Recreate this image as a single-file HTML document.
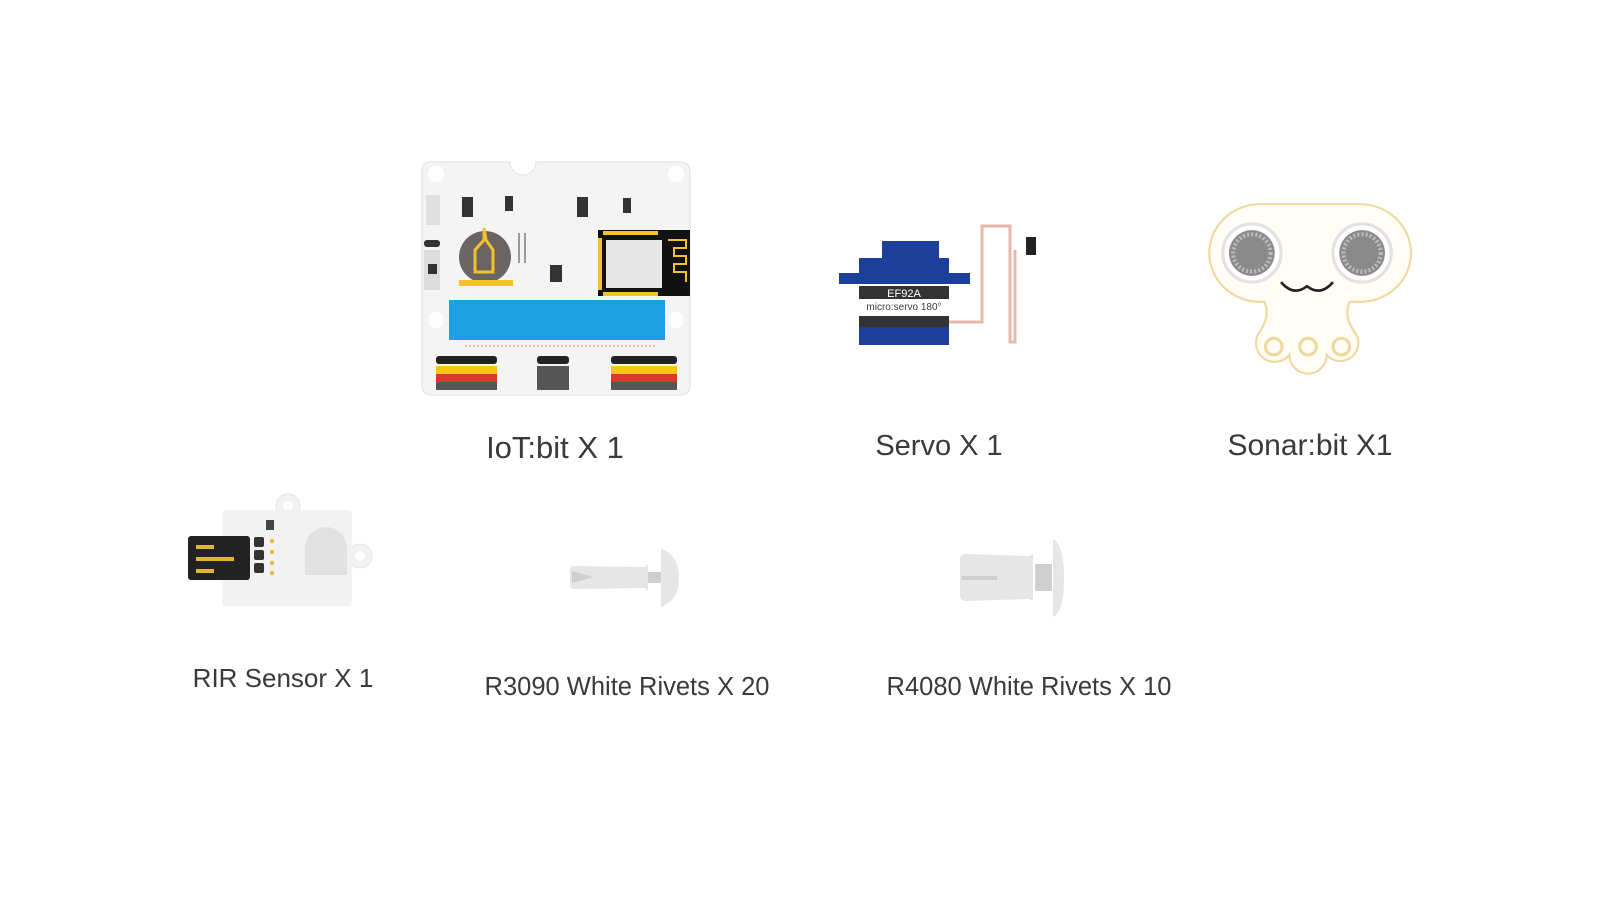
<!DOCTYPE html>
<html><head><meta charset="utf-8"><style>
html,body{margin:0;padding:0;background:#fff;}
svg{display:block}
text{font-family:"Liberation Sans",sans-serif;fill:#3a3a3a;}
</style></head><body>
<svg width="1600" height="900" viewBox="0 0 1600 900" xmlns="http://www.w3.org/2000/svg">
<!-- IoT:bit board -->
<g>
<path d="M430,162 H510 A13,13 0 0 0 536,162 H680 Q690,162 690,172 V385 Q690,395 680,395 H432 Q422,395 422,385 V172 Q422,162 430,162 Z" fill="#f4f4f4" stroke="#e2e2e2"/>
<circle cx="436" cy="174" r="8" fill="#fff"/><circle cx="676" cy="174" r="8" fill="#fff"/>
<circle cx="436" cy="320" r="8" fill="#fff"/><circle cx="676" cy="320" r="8" fill="#fff"/>
<rect x="426" y="195" width="14" height="30" fill="#e0e0e0"/>
<rect x="424" y="250" width="16" height="40" fill="#ddd"/><rect x="428" y="264" width="9" height="10" fill="#333"/>
<rect x="424" y="240" width="16" height="7" rx="3" fill="#333"/>
<rect x="462" y="197" width="11" height="20" fill="#333"/><rect x="505" y="196" width="8" height="15" fill="#333"/>
<rect x="577" y="197" width="11" height="20" fill="#333"/><rect x="623" y="198" width="8" height="15" fill="#333"/>
<circle cx="485" cy="257" r="26" fill="#6a6464"/>
<path d="M484,228 V240 L475,250 V272 H493 V250 L486,240 Z" fill="none" stroke="#f2c12e" stroke-width="3"/>
<rect x="459" y="280" width="54" height="6" fill="#f2c12e"/>
<rect x="518" y="233" width="2" height="30" fill="#999"/><rect x="524" y="233" width="2" height="30" fill="#999"/>
<rect x="550" y="265" width="12" height="17" fill="#333"/>
<rect x="598" y="230" width="92" height="66" fill="#111"/>
<rect x="606" y="240" width="56" height="48" fill="#e6e6e6"/>
<g fill="#f2c12e"><rect x="603" y="231" width="55" height="4"/><rect x="603" y="292" width="55" height="4"/><rect x="598" y="238" width="4" height="52"/><path d="M668,240 h18 v8 h-12 v8 h12 v8 h-12 v8 h12 v10" fill="none" stroke="#f2c12e" stroke-width="2"/></g>
<rect x="449" y="300" width="216" height="40" fill="#1ba1e4"/>
<line x1="465" y1="346" x2="655" y2="346" stroke="#e8c98a" stroke-width="2" stroke-dasharray="2,2"/>
<g>
<rect x="436" y="356" width="61" height="8" rx="3" fill="#222"/>
<rect x="436" y="366" width="61" height="8" fill="#f5c518"/>
<rect x="436" y="374" width="61" height="8" fill="#e0362f"/>
<rect x="436" y="382" width="61" height="8" fill="#555"/>
<rect x="537" y="356" width="32" height="8" rx="3" fill="#222"/>
<rect x="537" y="366" width="32" height="24" fill="#555"/>
<rect x="611" y="356" width="66" height="8" rx="3" fill="#222"/>
<rect x="611" y="366" width="66" height="8" fill="#f5c518"/>
<rect x="611" y="374" width="66" height="8" fill="#e0362f"/>
<rect x="611" y="382" width="66" height="8" fill="#555"/>
</g>
</g>
<!-- Servo -->
<g>
<polyline points="949,322 982,322 982,226 1010,226 1010,342 1015,342 1015,250" fill="none" stroke="#eab8a8" stroke-width="3"/>
<rect x="1026" y="237" width="10" height="18" fill="#222"/>
<rect x="882" y="241" width="57" height="18" fill="#1c3f9a"/>
<rect x="859" y="258" width="90" height="20" fill="#1c3f9a"/>
<rect x="839" y="273" width="131" height="11" fill="#1c3f9a"/>
<rect x="859" y="286" width="90" height="13" fill="#333"/>
<text x="904" y="297" font-size="11" text-anchor="middle" style="fill:#fff">EF92A</text>
<text x="904" y="310" font-size="10" text-anchor="middle">micro:servo 180°</text>
<rect x="859" y="316" width="90" height="11" fill="#333"/>
<rect x="859" y="327" width="90" height="18" fill="#1c3f9a"/>
</g>
<!-- Sonar:bit -->
<g transform="translate(1307,253) scale(1.04) translate(-1285,-250)">
<path d="M1240,203 H1336 A49,47 0 0 1 1336,297 H1326 Q1320,310 1330,325 A14,14 0 1 1 1304,348 A14,14 0 0 1 1268,348 A14,14 0 1 1 1240,325 Q1250,310 1244,297 H1240 A49,47 0 0 1 1240,203 Z" fill="#fffdf6" stroke="#efd89c" stroke-width="2"/>
<circle cx="1232" cy="250" r="28" fill="#fff" stroke="#e2e2e2" stroke-width="3"/>
<circle cx="1232" cy="250" r="22" fill="#8a8a8a"/><circle cx="1232" cy="250" r="18" fill="none" stroke="#bbb" stroke-width="4" stroke-dasharray="2,2"/>
<circle cx="1338" cy="250" r="28" fill="#fff" stroke="#e2e2e2" stroke-width="3"/>
<circle cx="1338" cy="250" r="22" fill="#8a8a8a"/><circle cx="1338" cy="250" r="18" fill="none" stroke="#bbb" stroke-width="4" stroke-dasharray="2,2"/>
<path d="M1260,278 Q1272,292 1285,282 Q1298,292 1310,278" fill="none" stroke="#222" stroke-width="2.5"/>
<circle cx="1253" cy="340" r="8" fill="none" stroke="#efd89c" stroke-width="3"/>
<circle cx="1286" cy="340" r="8" fill="none" stroke="#efd89c" stroke-width="3"/>
<circle cx="1318" cy="340" r="8" fill="none" stroke="#efd89c" stroke-width="3"/>
</g>
<!-- RIR sensor -->
<g>
<circle cx="288" cy="506" r="12" fill="#f2f2f2" stroke="#e6e6e6"/><circle cx="288" cy="506" r="5" fill="#fff"/>
<circle cx="360" cy="556" r="12" fill="#f2f2f2" stroke="#e6e6e6"/><circle cx="360" cy="556" r="5" fill="#fff"/>
<rect x="222" y="510" width="130" height="96" rx="4" fill="#f2f2f2"/>
<rect x="188" y="536" width="62" height="44" rx="3" fill="#222"/>
<rect x="196" y="545" width="18" height="4" fill="#e5b52a"/><rect x="196" y="557" width="38" height="4" fill="#e5b52a"/><rect x="196" y="569" width="18" height="4" fill="#e5b52a"/>
<rect x="254" y="537" width="10" height="10" rx="2" fill="#333"/><rect x="254" y="550" width="10" height="10" rx="2" fill="#333"/><rect x="254" y="563" width="10" height="10" rx="2" fill="#333"/>
<rect x="266" y="520" width="8" height="10" fill="#444"/>
<circle cx="272" cy="541" r="2" fill="#e5b52a"/><circle cx="272" cy="552" r="2" fill="#e5b52a"/><circle cx="272" cy="563" r="2" fill="#e5b52a"/><circle cx="272" cy="573" r="2" fill="#e5b52a"/>
<path d="M305,575 V548 A21,21 0 0 1 347,548 V575 Z" fill="#e2e2e2"/>
</g>
<!-- Rivets -->
<g fill="#e6e6e6">
<path d="M570,569 Q570,566 575,566 L645,567 L648,564 V591 L645,588 L575,589 Q570,589 570,585 Z"/>
<rect x="648" y="572" width="13" height="11" fill="#cfcfcf"/>
<path d="M661,548 Q679,556 679,578 Q679,600 661,607 Z"/>
<path d="M572,571 L593,577 L572,583 Z" fill="#cfcfcf"/>
<path d="M960,560 Q960,554 966,554 L1029,556 L1033,554 V601 L1029,599 L966,601 Q960,601 960,595 Z"/>
<rect x="1035" y="564" width="17" height="27" fill="#cfcfcf"/>
<path d="M1053,539 Q1064,545 1064,578 Q1064,612 1053,617 Z"/>
<rect x="962" y="576" width="35" height="4" fill="#cfcfcf"/>
</g>
<!-- Labels -->
<g font-size="29">
<text x="555" y="458" text-anchor="middle" font-size="31">IoT:bit X 1</text>
<text x="939" y="455" text-anchor="middle">Servo X 1</text>
<text x="1310" y="455" text-anchor="middle" font-size="30">Sonar:bit X1</text>
<text x="283" y="687" text-anchor="middle" font-size="26">RIR Sensor X 1</text>
<text x="627" y="695" text-anchor="middle" font-size="25.5">R3090 White Rivets X 20</text>
<text x="1029" y="695" text-anchor="middle" font-size="25.5">R4080 White Rivets X 10</text>
</g>
</svg>
</body></html>
